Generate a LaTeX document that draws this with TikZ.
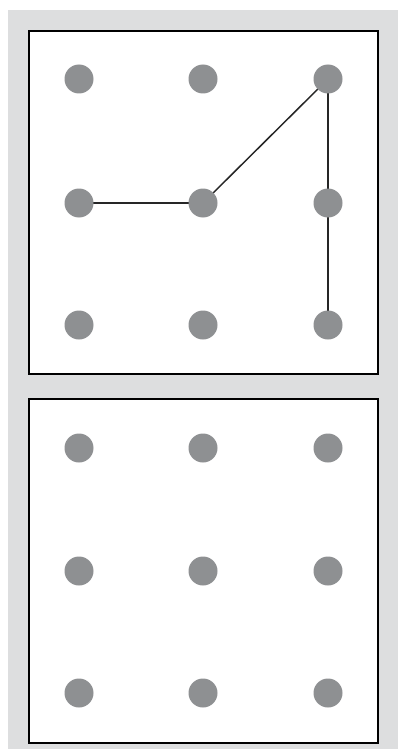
\documentclass[tikz,border=0pt]{standalone}
\pgfdeclarelayer{bg}
\pgfdeclarelayer{lines}
\pgfsetlayers{bg,lines,main}
\begin{document}
\begin{tikzpicture}[x=1pt,y=-1pt,
  dot/.style={circle,fill=dotgray,inner sep=0pt,minimum size=29pt},
  panel/.style={draw=black,fill=white,line width=1.6pt},
  link/.style={draw=black!85,line width=1.5pt}]
\definecolor{dotgray}{HTML}{8E9092}
\definecolor{bggray}{HTML}{DDDEDF}
\useasboundingbox (0,0) rectangle (398,749);
\begin{pgfonlayer}{bg}
\fill[white] (0,0) rectangle (398,749);
\fill[bggray] (8,10) rectangle (398,749);
\draw[panel] (29,31) rectangle (378,374);
\draw[panel] (29,399) rectangle (378,743);
\end{pgfonlayer}
\foreach \c/\x in {1/79,2/203,3/328}{
  \foreach \r/\y in {1/79,2/203,3/325}{
    \node[dot] (t\r\c) at (\x,\y) {};
  }
  \foreach \r/\y in {1/448,2/571,3/693}{
    \node[dot] (b\r\c) at (\x,\y) {};
  }
}
\begin{pgfonlayer}{lines}
\draw[link] (t21.center) -- (t22.center);
\draw[link] (t22.center) -- (t13.center);
\draw[link] (t13.center) -- (t33.center);
\end{pgfonlayer}
\end{tikzpicture}
\end{document}
